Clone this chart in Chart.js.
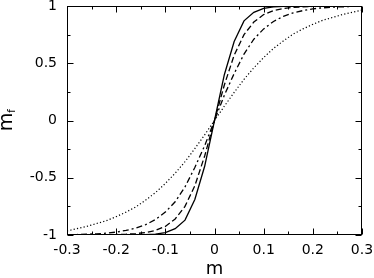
<!DOCTYPE html>
<html>
<head>
<meta charset="utf-8">
<script src="https://cdn.jsdelivr.net/npm/chart.js@4"></script>
<style>
  html, body { margin: 0; padding: 0; background: #fff; }
  canvas { display: block; }
</style>
</head>
<body>
<canvas id="myChart" width="374" height="278"></canvas>
<script>
// m values, every 0.02
const mValues = [-0.3, -0.28, -0.26, -0.24, -0.22, -0.2, -0.18, -0.16, -0.14, -0.12, -0.1, -0.08, -0.06, -0.04, -0.02, 0,
                 0.02, 0.04, 0.06, 0.08, 0.1, 0.12, 0.14, 0.16, 0.18, 0.2, 0.22, 0.24, 0.26, 0.28, 0.3];
const solidMf = [-1, -1, -1, -1, -1, -1, -1, -0.999, -0.997, -0.993, -0.98, -0.945, -0.87, -0.69, -0.4, 0,
                 0.4, 0.69, 0.87, 0.945, 0.98, 0.993, 0.997, 0.999, 1, 1, 1, 1, 1, 1, 1];
const dashedMf = [-1, -1, -0.999, -0.999, -0.998, -0.996, -0.993, -0.988, -0.978, -0.96, -0.925, -0.86, -0.75, -0.57, -0.31, 0,
                  0.31, 0.57, 0.75, 0.86, 0.925, 0.96, 0.978, 0.988, 0.993, 0.996, 0.998, 0.999, 0.999, 1, 1];
const dashDotMf = [-0.997, -0.996, -0.993, -0.99, -0.984, -0.975, -0.96, -0.94, -0.91, -0.865, -0.8, -0.71, -0.58, -0.41, -0.22, 0,
                   0.22, 0.41, 0.58, 0.71, 0.8, 0.865, 0.91, 0.94, 0.96, 0.975, 0.984, 0.99, 0.993, 0.996, 0.997];
const dottedMf = [-0.965, -0.945, -0.925, -0.9, -0.875, -0.84, -0.8, -0.755, -0.695, -0.63, -0.55, -0.46, -0.36, -0.245, -0.125, 0,
                  0.125, 0.245, 0.36, 0.46, 0.55, 0.63, 0.695, 0.755, 0.8, 0.84, 0.875, 0.9, 0.925, 0.945, 0.965];

const xTickLabels = ['-0.3', '-0.2', '-0.1', '0', '0.1', '0.2', '0.3'];
const yTickLabels = ['-1', '-0.5', '0', '0.5', '1'];

const toPoints = ys => ys.map((y, i) => ({x: mValues[i], y: y}));

// box, inward ticks on all four sides, axis titles
const framePlugin = {
    id: 'frame',
    afterDraw(chart) {
        const {ctx, chartArea: a, scales} = chart;
        ctx.save();
        ctx.strokeStyle = '#000';
        ctx.lineWidth = 1;
        const l = a.left + 0.5, r = a.right - 0.5, t = a.top + 0.5, b = a.bottom - 0.5;
        ctx.strokeRect(l, t, r - l, b - t);

        ctx.beginPath();
        scales.x.ticks.forEach(tk => {
            const px = Math.round(scales.x.getPixelForValue(tk.value)) + 0.5;
            const len = tk.label ? 6 : 3;
            ctx.moveTo(px, b); ctx.lineTo(px, b - len);
            ctx.moveTo(px, t); ctx.lineTo(px, t + len);
        });
        scales.y.ticks.forEach(tk => {
            const py = Math.round(scales.y.getPixelForValue(tk.value)) + 0.5;
            const len = tk.label ? 6 : 3;
            ctx.moveTo(l, py); ctx.lineTo(l + len, py);
            ctx.moveTo(r, py); ctx.lineTo(r - len, py);
        });
        ctx.stroke();

        ctx.fillStyle = '#000';
        ctx.textBaseline = 'alphabetic';
        ctx.textAlign = 'center';
        ctx.font = '18px "DejaVu Sans"';
        ctx.fillText('m', (a.left + a.right) / 2, 274);

        ctx.translate(12, 120);
        ctx.rotate(-Math.PI / 2);
        ctx.textAlign = 'left';
        ctx.font = '19px "DejaVu Sans"';
        const mw = ctx.measureText('m').width;
        ctx.fillText('m', -mw / 2 - 2, 0);
        ctx.font = '10px "DejaVu Sans"';
        ctx.fillText('f', mw / 2 - 2, 3);
        ctx.restore();
    }
};

const lineStyle = (data, dash, width) => ({
    data: toPoints(data),
    borderColor: '#000',
    borderWidth: width,
    borderDash: dash,
    pointRadius: 0,
    fill: false,
    tension: 0
});

new Chart(document.getElementById('myChart'), {
    type: 'line',
    data: {
        datasets: [
            lineStyle(solidMf, [], 1.3),
            lineStyle(dashedMf, [6, 3], 1.3),
            lineStyle(dashDotMf, [6, 3, 2, 3], 1.3),
            lineStyle(dottedMf, [1.2, 2.2], 1.2)
        ]
    },
    options: {
        responsive: false,
        devicePixelRatio: 1,
        animation: false,
        layout: { padding: { top: 6, right: 12, left: 0, bottom: 0 } },
        plugins: { legend: { display: false }, tooltip: { enabled: false } },
        scales: {
            x: {
                type: 'linear',
                min: -0.3,
                max: 0.3,
                grid: { display: false, drawTicks: false },
                border: { display: false },
                afterFit: s => {
                    s.height = 43;
                    s.paddingLeft = 0; s.paddingRight = 0;
                },
                ticks: {
                    stepSize: 0.05,
                    autoSkip: false,
                    maxRotation: 0,
                    padding: 7,
                    color: '#000',
                    font: { family: 'DejaVu Sans', size: 14 },
                    callback: v => {
                        const k = v * 10;
                        if (Math.abs(k - Math.round(k)) > 1e-6) return '';
                        return xTickLabels[Math.round(k) + 3];
                    }
                }
            },
            y: {
                min: -1,
                max: 1,
                grid: { display: false, drawTicks: false },
                border: { display: false },
                afterFit: s => {
                    s.width = 67;
                    s.paddingTop = 0; s.paddingBottom = 0;
                },
                ticks: {
                    stepSize: 0.25,
                    autoSkip: false,
                    padding: 10,
                    color: '#000',
                    font: { family: 'DejaVu Sans', size: 14 },
                    callback: v => {
                        const k = v * 2;
                        if (Math.abs(k - Math.round(k)) > 1e-6) return '';
                        return yTickLabels[Math.round(k) + 2];
                    }
                }
            }
        }
    },
    plugins: [framePlugin]
});
</script>
</body>
</html>
